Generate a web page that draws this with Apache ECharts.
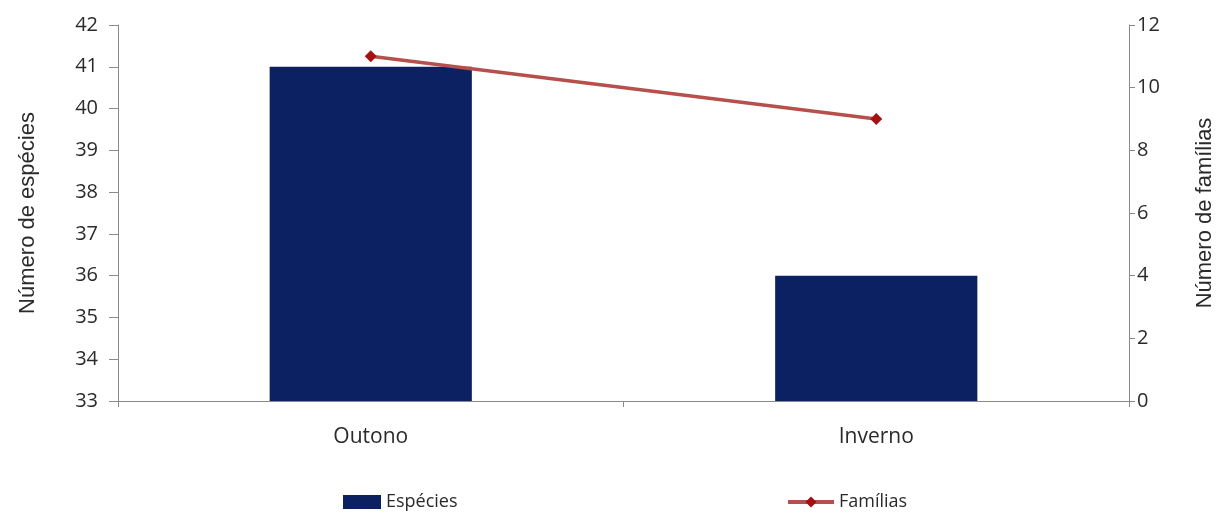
<!DOCTYPE html>
<html>
<head>
<meta charset="utf-8">
<script src="https://cdn.jsdelivr.net/npm/echarts@6/dist/echarts.min.js"></script>
<style>
  html, body { margin: 0; padding: 0; background: #fff; }
  #chart { width: 1218px; height: 515px; }
</style>
</head>
<body>
<div id="chart"></div>
<script>
const seasons = ['Outono', 'Inverno'];
const especies = [41, 36];
const familias = [11, 9];
const leftTicks = { min: 33, max: 42, interval: 1 };
const rightTicks = { min: 0, max: 12, interval: 2 };

const font = '"Open Sans", "Liberation Sans", sans-serif';
const nameFont = '"Liberation Sans", Arial, sans-serif';
const axisGrey = '#8a8a8a';
const textColor = '#2a2a2a';

const chart = echarts.init(document.getElementById('chart'));
chart.setOption({
  animation: false,
  textStyle: { fontFamily: font, color: textColor },
  grid: {
    left: 118, right: 89, top: 25, bottom: 114,
    containLabel: false, outerBoundsMode: 'none'
  },
  legend: [
    {
      data: [{ name: 'Espécies', icon: 'rect' }],
      left: 338, top: 488,
      itemWidth: 38, itemHeight: 14, itemGap: 4,
      textStyle: { fontFamily: font, fontSize: 18, color: textColor }
    },
    {
      data: ['Famílias'],
      left: 781, top: 488,
      itemWidth: 46, itemHeight: 14,
      lineStyle: { width: 4 },
      textStyle: { fontFamily: font, fontSize: 18, color: textColor }
    }
  ],
  xAxis: {
    type: 'category',
    data: seasons,
    axisLine: { lineStyle: { color: axisGrey, width: 1 } },
    axisTick: { show: true, alignWithLabel: false, length: 6, lineStyle: { color: axisGrey } },
    axisLabel: { fontSize: 21, color: textColor, margin: 26, fontFamily: font }
  },
  yAxis: [
    {
      type: 'value',
      min: leftTicks.min, max: leftTicks.max, interval: leftTicks.interval,
      name: 'Número de espécies',
      nameLocation: 'middle', nameGap: 79, nameRotate: 90,
      nameTextStyle: { fontSize: 22, color: textColor, fontFamily: nameFont },
      axisLine: { show: true, lineStyle: { color: axisGrey } },
      axisTick: { show: true, length: 9, lineStyle: { color: axisGrey } },
      splitLine: { show: false },
      axisLabel: { fontSize: 20, color: textColor, margin: 20, fontFamily: font }
    },
    {
      type: 'value',
      min: rightTicks.min, max: rightTicks.max, interval: rightTicks.interval,
      name: 'Número de famílias',
      nameLocation: 'middle', nameGap: 65, nameRotate: 90,
      nameTextStyle: { fontSize: 22, color: textColor, fontFamily: nameFont },
      axisLine: { show: true, lineStyle: { color: axisGrey } },
      axisTick: { show: true, length: 6, lineStyle: { color: axisGrey } },
      splitLine: { show: false },
      axisLabel: { fontSize: 20, color: textColor, margin: 8, fontFamily: font }
    }
  ],
  series: [
    {
      name: 'Espécies',
      type: 'bar',
      yAxisIndex: 0,
      data: especies,
      barWidth: '40%',
      itemStyle: { color: '#0b2162' }
    },
    {
      name: 'Famílias',
      type: 'line',
      yAxisIndex: 1,
      data: familias,
      symbol: 'diamond',
      symbolSize: 12,
      lineStyle: { color: '#b5504d', width: 3.5 },
      itemStyle: { color: '#a51010' }
    }
  ]
});
</script>
</body>
</html>
